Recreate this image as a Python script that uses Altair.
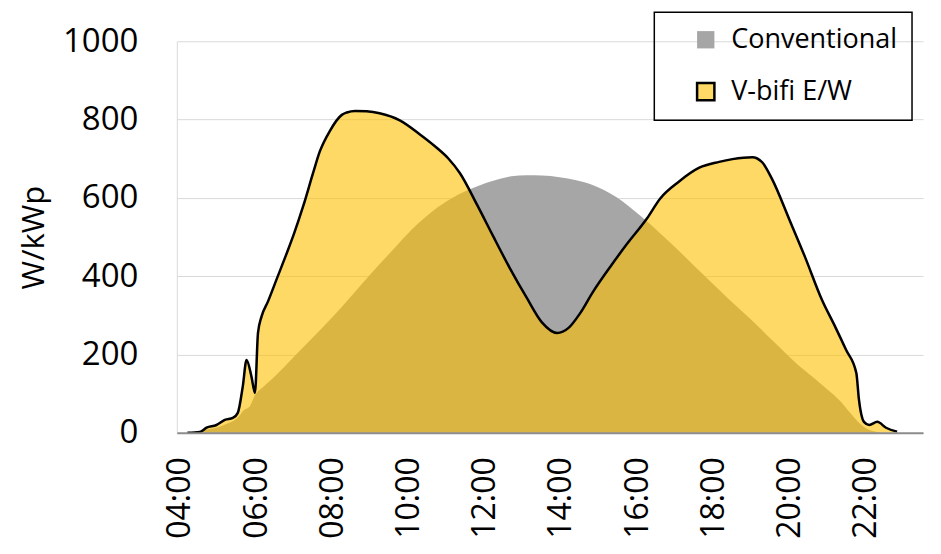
import altair as alt
import pandas as pd

# ---- data ----
series_names = ["Conventional", "V-bifi E/W"]

conv_hours = [4.2, 4.5, 4.7, 5.0, 5.2, 5.4, 5.6, 5.65, 5.85, 5.95, 6.2, 6.5, 7.0, 7.5, 8.0,
              8.46, 9.0, 9.5, 9.77, 10.2, 10.63, 11.1, 11.52, 12.2, 12.7, 13.1, 13.5,
              13.96, 14.4, 14.83, 15.45, 16.06, 16.6, 17.2, 17.8, 18.4, 19.0, 19.73,
              20.2, 20.6, 21.0, 21.3, 21.6, 21.82, 22.0, 22.27, 22.4]
conv_vals = [0, 3, 8, 14, 22, 30, 48, 55, 70, 92, 118, 145, 195, 245, 295,
             345, 405, 458, 487, 530, 566, 597, 618, 643, 655, 658, 657,
             653, 645, 633, 602, 556, 510, 455, 398, 342, 288, 219,
             175, 143, 110, 84, 50, 26, 12, 3, 0]

bifi_hours = [4.2, 4.52, 4.7, 4.96, 5.18, 5.39, 5.52, 5.65, 5.75, 5.88, 5.97, 6.05,
              6.14, 6.31, 6.55, 6.79, 7.0, 7.24, 7.5, 7.67, 7.93, 8.25, 8.38, 8.6,
              8.9, 9.24, 9.77, 10.3, 10.74, 11.05, 11.35, 11.8, 12.2, 12.65, 13.1, 13.5,
              13.9, 14.2, 14.5, 14.84, 15.3, 15.73, 16.26, 16.6, 17.1, 17.63, 18.15,
              18.5, 19.02, 19.28, 19.54, 20.0, 20.4, 20.85, 21.2, 21.48, 21.75,
              21.82, 21.95, 22.09, 22.3, 22.53, 22.82]
bifi_vals = [0, 2, 13, 20, 33, 38, 51, 118, 186, 143, 102, 255,
             296, 335, 395, 455, 510, 580, 665, 718, 770, 812, 818, 822,
             821, 816, 798, 762, 728, 700, 663, 582, 506, 422, 345, 282,
             255, 268, 305, 360, 425, 482, 548, 598, 642, 677, 692,
             699, 704, 691, 648, 543, 450, 339, 270, 212, 153,
             84, 28, 20, 28, 13, 3]

x_ticks = [4, 6, 8, 10, 12, 14, 16, 18, 20, 22]
y_ticks = [0, 200, 400, 600, 800, 1000]

conv_df = pd.DataFrame({"hour": conv_hours, "value": conv_vals, "series": series_names[0]})
bifi_df = pd.DataFrame({"hour": bifi_hours, "value": bifi_vals, "series": series_names[1]})

FONT = "Open Sans"
NB = "\u00a0"

x_enc = alt.X(
    "hour:Q",
    scale=alt.Scale(domain=[3.92, 23.5], nice=False, zero=False),
    axis=alt.Axis(
        values=x_ticks,
        labelExpr="(datum.value < 10 ? '0' : '') + datum.value + ':00'",
        labelAngle=-90,
        ticks=False,
        grid=False,
        domainColor="#8C8C8C",
        domainWidth=2,
        labelPadding=24,
        labelFontSize=32,
        labelColor="#000000",
        title=None,
        zindex=1,
    ),
)
y_enc = alt.Y(
    "value:Q",
    scale=alt.Scale(domain=[0, 1000], nice=False),
    axis=alt.Axis(
        values=y_ticks,
        format="d",
        title="W/kWp",
        ticks=False,
        grid=True,
        gridColor="#D9D9D9",
        gridWidth=1,
        domainColor="#D9D9D9",
        labelPadding=39,
        labelFontSize=33,
        labelColor="#000000",
        titleFontSize=31,
        titleFontWeight="normal",
        titleColor="#000000",
        titlePadding=12,
    ),
)

legend = alt.Legend(
    title=NB,
    titleOrient="left",
    titlePadding=24,
    titleFontSize=10,
    titleColor="rgba(0,0,0,0)",
    orient="none",
    legendX=478,
    legendY=-29,
    symbolType="square",
    symbolSize=300,
    symbolStrokeWidth=2.5,
    labelFontSize=27,
    labelColor="#000000",
    labelOffset=12,
    labelLimit=400,
    rowPadding=23,
    padding=14,
    strokeColor="#000000",
)

conv_area = alt.Chart(conv_df).mark_area(interpolate="monotone", opacity=1).encode(
    x=x_enc,
    y=y_enc,
    fill=alt.Fill("series:N",
                  scale=alt.Scale(domain=series_names, range=["#A6A6A6", "#FFD966"]),
                  legend=legend),
    stroke=alt.Stroke("series:N",
                      scale=alt.Scale(domain=series_names, range=["rgba(0,0,0,0)", "#000000"]),
                      legend=legend),
)

bifi_area = alt.Chart(bifi_df).mark_area(
    interpolate="monotone", color="#FFC000", opacity=0.6
).encode(x="hour:Q", y="value:Q")

bifi_line = alt.Chart(bifi_df).mark_line(
    interpolate="monotone", color="#000000", strokeWidth=2.5
).encode(x="hour:Q", y="value:Q")

chart = (
    alt.layer(conv_area, bifi_area, bifi_line)
    .properties(width=747, height=392, autosize=alt.AutoSizeParams(type="none"),
                padding={"left": 169, "top": 33, "right": 10, "bottom": 110})
    .configure(font=FONT)
    .configure_view(stroke=None)
    .configure_legend(strokeWidth=1.5)
)

chart.save("out.html", embed_options={"renderer": "svg", "actions": False})
